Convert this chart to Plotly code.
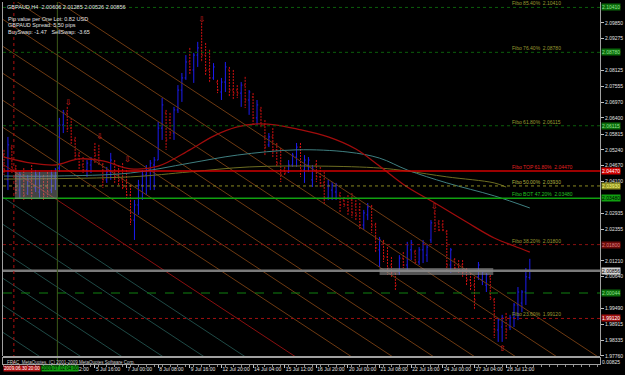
import plotly.graph_objects as go

# ---------------- data ----------------
bar_index = list(range(134))
opens = [2.0505,2.0415,2.0531,2.0458,2.0378,2.0433,2.0367,2.0415,2.0386,2.0371,
         2.0426,2.0389,2.0378,2.0426,2.0458,2.0614,2.0658,2.0603,2.0560,2.0505,
         2.0469,2.0451,2.0469,2.0524,2.0505,2.0469,2.0415,2.0444,2.0476,2.0433,
         2.0415,2.0389,2.0360,2.0269,2.0324,2.0396,2.0433,2.0451,2.0469,2.0487,
         2.0603,2.0658,2.0632,2.0585,2.0669,2.0741,2.0785,2.0843,2.0814,2.0868,
         2.0894,2.0868,2.0814,2.0785,2.0770,2.0734,2.0770,2.0814,2.0741,2.0741,
         2.0730,2.0759,2.0705,2.0716,2.0640,2.0669,2.0614,2.0542,2.0571,2.0524,
         2.0476,2.0451,2.0444,2.0469,2.0498,2.0534,2.0451,2.0469,2.0415,2.0469,
         2.0426,2.0404,2.0349,2.0378,2.0371,2.0360,2.0342,2.0324,2.0342,2.0324,
         2.0306,2.0251,2.0288,2.0317,2.0251,2.0161,2.0186,2.0135,2.0106,2.0081,
         2.0081,2.0131,2.0106,2.0161,2.0153,2.0117,2.0161,2.0142,2.0197,2.0295,
         2.0259,2.0251,2.0226,2.0106,2.0124,2.0106,2.0106,2.0081,2.0052,2.0033,
         2.0063,2.0052,2.0033,2.0063,1.9979,1.9870,1.9881,1.9914,1.9881,1.9914,
         1.9961,1.9968,2.0008,2.00606]
highs = [2.0524,2.0571,2.0542,2.0469,2.0444,2.0458,2.0433,2.0469,2.0451,2.0444,
         2.0433,2.0444,2.0451,2.0458,2.0640,2.0669,2.0680,2.0640,2.0571,2.0516,
         2.0498,2.0487,2.0498,2.0549,2.0542,2.0476,2.0462,2.0513,2.0487,2.0469,
         2.0476,2.0451,2.0396,2.0342,2.0415,2.0451,2.0469,2.0487,2.0498,2.0625,
         2.0712,2.0669,2.0658,2.0680,2.0759,2.0803,2.0868,2.0894,2.0876,2.0916,
         2.0985,2.0912,2.0887,2.0839,2.0778,2.0785,2.0843,2.0825,2.0814,2.0759,
         2.0770,2.0789,2.0741,2.0730,2.0705,2.0680,2.0632,2.0585,2.0603,2.0549,
         2.0531,2.0462,2.0487,2.0513,2.0549,2.0549,2.0505,2.0498,2.0469,2.0487,
         2.0462,2.0444,2.0415,2.0407,2.0404,2.0371,2.0353,2.0360,2.0367,2.0342,
         2.0331,2.0306,2.0331,2.0324,2.0259,2.0208,2.0197,2.0171,2.0135,2.0088,
         2.0142,2.0153,2.0190,2.0197,2.0161,2.0171,2.0197,2.0179,2.0269,2.0306,
         2.0269,2.0269,2.0233,2.0168,2.0131,2.0124,2.0124,2.0095,2.0088,2.0063,
         2.0117,2.0088,2.0077,2.0070,1.9986,1.9914,1.9925,1.9932,1.9925,1.9968,
         2.0026,2.0015,2.0095,2.01285]
lows = [2.0433,2.0378,2.0440,2.0360,2.0349,2.0342,2.0360,2.0342,2.0371,2.0349,
        2.0342,2.0353,2.0367,2.0378,2.0444,2.0585,2.0589,2.0542,2.0487,2.0451,
        2.0440,2.0426,2.0440,2.0476,2.0469,2.0386,2.0404,2.0415,2.0404,2.0396,
        2.0378,2.0342,2.0251,2.0197,2.0288,2.0342,2.0360,2.0378,2.0378,2.0487,
        2.0560,2.0524,2.0560,2.0560,2.0658,2.0698,2.0778,2.0796,2.0767,2.0825,
        2.0843,2.0796,2.0767,2.0778,2.0730,2.0705,2.0734,2.0716,2.0705,2.0712,
        2.0680,2.0676,2.0651,2.0614,2.0614,2.0603,2.0505,2.0534,2.0498,2.0462,
        2.0407,2.0433,2.0440,2.0462,2.0462,2.0426,2.0404,2.0444,2.0389,2.0407,
        2.0386,2.0324,2.0342,2.0342,2.0342,2.0295,2.0317,2.0288,2.0277,2.0269,
        2.0233,2.0233,2.0269,2.0222,2.0150,2.0099,2.0117,2.0070,2.0063,2.0015,
        2.0070,2.0095,2.0081,2.0124,2.0106,2.0106,2.0113,2.0117,2.0186,2.0226,
        2.0226,2.0226,2.0088,2.0077,2.0081,2.0077,2.0063,2.0033,2.0015,1.9943,
        2.0052,2.0033,2.0008,1.9979,1.9841,1.9827,1.9827,1.9834,1.9870,1.9881,
        1.9906,1.9935,1.9961,2.00526]
closes = [2.0451,2.0542,2.0458,2.0378,2.0433,2.0360,2.0415,2.0367,2.0433,2.0426,
          2.0360,2.0371,2.0433,2.0451,2.0614,2.0658,2.0603,2.0560,2.0505,2.0469,
          2.0451,2.0476,2.0487,2.0505,2.0476,2.0415,2.0444,2.0487,2.0426,2.0415,
          2.0389,2.0360,2.0269,2.0324,2.0396,2.0433,2.0451,2.0476,2.0487,2.0603,
          2.0687,2.0560,2.0585,2.0669,2.0741,2.0785,2.0843,2.0814,2.0868,2.0894,
          2.0868,2.0814,2.0785,2.0825,2.0741,2.0770,2.0825,2.0741,2.0730,2.0730,
          2.0759,2.0705,2.0734,2.0640,2.0687,2.0614,2.0534,2.0571,2.0524,2.0476,
          2.0433,2.0440,2.0469,2.0505,2.0534,2.0451,2.0487,2.0487,2.0458,2.0426,
          2.0404,2.0349,2.0396,2.0396,2.0396,2.0324,2.0324,2.0306,2.0295,2.0288,
          2.0251,2.0295,2.0317,2.0251,2.0168,2.0197,2.0135,2.0095,2.0081,2.0033,
          2.0131,2.0106,2.0179,2.0186,2.0117,2.0161,2.0186,2.0171,2.0259,2.0251,
          2.0233,2.0233,2.0106,2.0161,2.0095,2.0088,2.0081,2.0052,2.0033,1.9979,
          2.0106,2.0081,2.0070,1.9986,1.9870,1.9906,1.9914,1.9870,1.9914,1.9961,
          2.0008,2.0008,2.0063,2.00856]

# moving averages (sampled along the curve)
ma_red_x = [0,7,13,19,25,32,39,47,53,59,64,69,74,82,89,95,102,109,117,124,129,133]
ma_red_y = [2.0498,2.0476,2.0469,2.0491,2.0484,2.0455,2.0465,2.0524,2.0574,2.0607,2.0618,
            2.0614,2.0600,2.0571,2.0527,2.0465,2.0389,2.0331,2.0262,2.0204,2.0175,2.0153]
ma_teal_x = [0,13,32,47,59,74,87,95,102,112,124,133]
ma_teal_y = [2.0429,2.0429,2.0440,2.0476,2.0505,2.0524,2.0516,2.0494,2.0451,2.0404,2.0357,2.0313]
ma_olive_x = [0,32,47,62,80,95,102,112,124,127]
ma_olive_y = [2.0418,2.0426,2.0444,2.0462,2.0465,2.0458,2.0447,2.0426,2.0404,2.0389]

# fractal arrows
frac_dn_x = [16.2, 24.2, 31.2, 50.0, 108.8]
frac_dn_y = [2.0694, 2.0571, 2.0487, 2.0995, 2.0317]
frac_up_x = [126.0]
frac_up_y = [1.9801]

# horizontal levels
level_price = [2.10410, 2.08780, 2.06115, 2.04470, 2.03930, 2.03480, 2.01800, 2.00856, 2.00044, 1.99120]
level_color = ["#0b5e0b", "#0b5e0b", "#0b5e0b", "#d00000", "#8a8a20", "#10a010", "#8a1010", "#7a7a7a", "#108010", "#a01010"]
level_dash = ["dot", "dot", "dot", "solid", "dot", "solid", "dot", "solid", "dash", "dot"]
level_width = [1, 1, 1, 1.5, 1, 1.5, 1, 2.5, 1, 1]
level_text = ["Fibo 85.40%  2.10410", "Fibo 76.40%  2.08780", "Fibo 61.80%  2.06115",
              "Fibo TOP 61.80%  2.04470", "Fibo 50.00%  2.03930", "Fibo BOT 47.20%  2.03480",
              "Fibo 38.20%  2.01800", "", "", "Fibo 23.60%  1.99120"]
level_text_color = ["#9a9a30", "#9a9a30", "#9a9a30", "#e02020", "#b0b040", "#20c020", "#9a9a30", "", "", "#9a9a30"]
box_bg = ["#0a6a0a", "#0a6a0a", "#0a6a0a", "#d00000", "#8a8a20", "#10a010", "#6a0a0a", "#d0d0d0", "#0a6a0a", "#a01010"]
box_fg = ["#90e090", "#90e090", "#90e090", "#ffffff", "#ffff80", "#000000", "#e08080", "#000000", "#90e090", "#ffffff"]

# price axis ticks (those hidden behind the level boxes are left out)
price_ticks = [1.97760, 1.98335, 1.98915, 1.99490, 2.00640, 2.01210, 2.02355,
               2.02935, 2.04100, 2.04670, 2.05240, 2.05815, 2.06400, 2.06970, 2.07555,
               2.08125, 2.09275, 2.09850]
sub_value = 0.00825

# time axis
time_ticks = [15, 23, 31, 39, 47, 55, 63, 71, 79, 87, 95, 103, 111, 119, 127]
time_labels = ["2 Jul 12:00", "5 Jul 16:00", "7 Jul 00:00", "8 Jul 08:00", "9 Jul 16:00",
               "12 Jul 20:00", "14 Jul 04:00", "15 Jul 12:00", "16 Jul 20:00", "20 Jul 00:00",
               "21 Jul 08:00", "22 Jul 16:00", "24 Jul 00:00", "27 Jul 04:00", "28 Jul 12:00"]

# diagonal (channel) lines: price at bar 0, common slope per bar
diag_anchor = [2.1191, 2.1093, 2.0995, 2.0897, 2.0799, 2.0701, 2.0603,
               2.0469,
               2.0349, 2.0251, 2.0153, 2.0055, 1.9957, 1.9859, 1.9761]
diag_color = ["#6e3a12"] * 7 + ["#8a1010"] + ["#1f4a46"] * 7
diag_slope = -0.000944

# objects
vline_red_x = 2.5
vline_green_x = 13.5
rect1 = dict(x0=2.75, x1=13.5, y0=2.0346, y1=2.0444)
rect2 = dict(x0=95.0, x1=123.75, y0=2.0070, y1=2.0095)

FONT = "Liberation Sans"

fig = go.Figure()

for p0, c in zip(diag_anchor, diag_color):
    xa, xb = -5, 160
    fig.add_trace(go.Scatter(x=[xa, xb], y=[p0 + diag_slope * xa, p0 + diag_slope * xb],
                             mode="lines", line=dict(color=c, width=1), hoverinfo="skip",
                             showlegend=False))

fig.add_trace(go.Scatter(x=ma_olive_x, y=ma_olive_y, mode="lines", line=dict(color="#6e6e22", width=1, shape="spline"), showlegend=False))
fig.add_trace(go.Scatter(x=ma_teal_x, y=ma_teal_y, mode="lines", line=dict(color="#3f7f80", width=1, shape="spline"), showlegend=False))
fig.add_trace(go.Scatter(x=ma_red_x, y=ma_red_y, mode="lines", line=dict(color="#a00c0c", width=1.3, shape="spline"), showlegend=False))

fig.add_trace(go.Ohlc(x=bar_index, open=opens, high=highs, low=lows, close=closes,
                      increasing=dict(line=dict(color="#1c1cf0", width=1)),
                      decreasing=dict(line=dict(color="#d01010", width=1, dash="2px,1px")),
                      tickwidth=0.3, showlegend=False))

fig.add_trace(go.Scatter(x=frac_dn_x, y=frac_dn_y, mode="text", text=["⇩"] * len(frac_dn_x),
                         textfont=dict(color="#e02020", size=8, family="DejaVu Sans"), showlegend=False))
fig.add_trace(go.Scatter(x=frac_up_x, y=frac_up_y, mode="text", text=["⇧"] * len(frac_up_x),
                         textfont=dict(color="#e02020", size=8, family="DejaVu Sans"), showlegend=False))

fig.add_trace(go.Scatter(x=[0, 150], y=[0.0, 0.0], mode="lines", line=dict(color="#000000", width=0),
                         yaxis="y2", showlegend=False, hoverinfo="skip"))

shapes = []
for p, c, d, w in zip(level_price, level_color, level_dash, level_width):
    shapes.append(dict(type="line", xref="paper", x0=0, x1=1, yref="y", y0=p, y1=p,
                       line=dict(color=c, width=w, dash=d), layer="above"))
shapes.append(dict(type="line", xref="x", x0=vline_red_x, x1=vline_red_x, yref="paper", y0=0, y1=1,
                   line=dict(color="#b01010", width=1, dash="dot")))
shapes.append(dict(type="line", xref="x", x0=vline_green_x, x1=vline_green_x, yref="paper", y0=0, y1=1,
                   line=dict(color="#3d5a1a", width=1)))
shapes.append(dict(type="rect", xref="x", yref="y", **rect1, line=dict(width=0),
                   fillcolor="rgba(150,150,150,0.45)", layer="above"))
shapes.append(dict(type="rect", xref="x", yref="y", **rect2, line=dict(width=0),
                   fillcolor="rgba(140,140,140,0.6)", layer="above"))
shapes.append(dict(type="rect", xref="paper", x0=0, x1=1, yref="paper", y0=0.0168, y1=0.0221,
                   fillcolor="#a0a0a0", line=dict(width=0)))

ann = []
for p, t, tc in zip(level_price, level_text, level_text_color):
    if t:
        ann.append(dict(x=128, y=p, xref="x", yref="y", text=t, showarrow=False, xanchor="left",
                        yanchor="bottom", yshift=-1, font=dict(family=FONT, size=5, color=tc)))
for p, bg, fg in zip(level_price, box_bg, box_fg):
    ann.append(dict(x=1.0, y=p, xref="paper", yref="y", text="%.5f" % p, showarrow=False,
                    xanchor="left", xshift=1, bgcolor=bg, font=dict(family=FONT, size=5, color=fg),
                    borderpad=0))
ann.append(dict(x=0.003, y=1.0, xref="paper", yref="paper", xanchor="left", yanchor="top",
                text="GBPAUD,H4  2.00606 2.01285 2.00526 2.00856", showarrow=False,
                font=dict(family=FONT, size=5.5, color="#e0e0e0")))
for i, t in enumerate(["Pip value per One Lot: 0.82 USD", "GBPAUD Spread: 5.50 pips",
                       "BuySwap: -1.47   SellSwap: -3.65"]):
    ann.append(dict(x=0.005, y=0.968 - i * 0.019, xref="paper", yref="paper", xanchor="left",
                    yanchor="top", text=t, showarrow=False, font=dict(family=FONT, size=5.5, color="#e0e0e0")))
ann.append(dict(x=0.003, y=0.0165, xref="paper", yref="paper", xanchor="left", yanchor="top",
                text="FRAC  MetaQuotes, (C) 2001-2009 MetaQuotes Software Corp.", showarrow=False,
                font=dict(family=FONT, size=4.5, color="#d0d0d0")))
ann.append(dict(x=0, y=-0.002, xref="paper", yref="paper", xanchor="left", yanchor="top",
                text="2009.06.30 20:00", showarrow=False, bgcolor="#b01010",
                font=dict(family=FONT, size=4.6, color="#ffffff"), borderpad=0))
ann.append(dict(x=vline_green_x - 4.2, y=-0.002, xref="x", yref="paper", xanchor="left", yanchor="top",
                text="2009.07.02 04:00", showarrow=False, bgcolor="#10a010",
                font=dict(family=FONT, size=4.6, color="#000000"), borderpad=0))

fig.update_layout(
    width=625, height=375,
    margin=dict(l=2, r=19, t=2, b=11),
    paper_bgcolor="#000000", plot_bgcolor="#000000",
    shapes=shapes, annotations=ann,
    xaxis=dict(range=[-0.25, 150.75], anchor="y2", showgrid=False, zeroline=False,
               tickvals=time_ticks, ticktext=time_labels, ticks="outside", ticklen=3,
               tickangle=0, tickcolor="#c0c0c0", ticklabelposition="outside right",
               tickfont=dict(family=FONT, size=5, color="#e0e0e0"),
               showline=True, linecolor="#a0a0a0", mirror=True, rangeslider=dict(visible=False),
               minor=dict(dtick=2, ticks="outside", ticklen=2, tickcolor="#909090")),
    yaxis=dict(domain=[0.0221, 1], range=[1.97757, 2.10607], side="right", showgrid=False,
               zeroline=False, tickvals=price_ticks, ticktext=["%.5f" % v for v in price_ticks],
               ticks="outside", ticklen=3, tickcolor="#c0c0c0",
               tickfont=dict(family=FONT, size=5, color="#e0e0e0"),
               showline=True, linecolor="#a0a0a0", mirror=True),
    yaxis2=dict(domain=[0, 0.0166], range=[0.00165, 0.02165], side="right", showgrid=False,
                zeroline=False, tickvals=[sub_value], ticktext=["%.5f" % sub_value], ticks="",
                tickfont=dict(family=FONT, size=5, color="#e0e0e0"),
                showline=True, linecolor="#a0a0a0", mirror=True),
    showlegend=False,
)

fig.write_html("out.html")
